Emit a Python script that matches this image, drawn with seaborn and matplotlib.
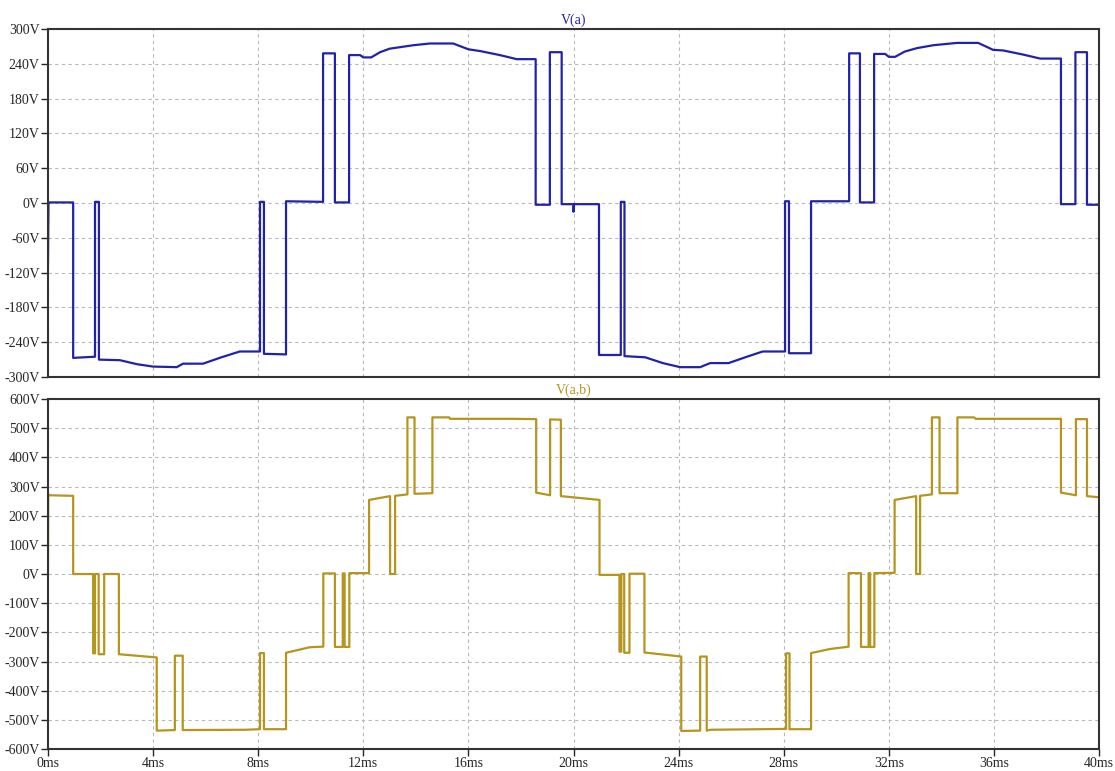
import numpy as np
import pandas as pd
import matplotlib
matplotlib.use("Agg")
import matplotlib.pyplot as plt
from matplotlib.ticker import FuncFormatter, MultipleLocator
import seaborn as sns

# V(a): phase voltage, time in ms, value in V
t_a = [0, 0.02, 0.96, 0.96, 1.79, 1.79, 1.94, 1.94,
       2.74, 3.4, 4.0, 4.9, 5.14, 5.9, 6.6, 7.3,
       8.07, 8.07, 8.22, 8.22, 9.06, 9.06, 10.47, 10.47,
       10.92, 10.92, 11.46, 11.46, 11.88, 12.0, 12.3, 12.64,
       13.0, 13.9, 14.54, 15.42, 16.0, 16.44, 17.2, 17.84,
       18.56, 18.56, 19.1, 19.1, 19.55, 19.55, 20.0, 20.0,
       20.02, 20.97, 20.97, 21.8, 21.8, 21.94, 21.94, 22.73,
       23.4, 24.06, 24.82, 25.2, 25.9, 26.6, 27.2, 28.05,
       28.05, 28.2, 28.2, 29.04, 29.04, 30.49, 30.49, 30.9,
       30.9, 31.44, 31.44, 31.86, 32.0, 32.24, 32.6, 33.07,
       33.69, 34.59, 35.4, 35.97, 36.35, 37.1, 37.76, 38.55,
       38.55, 39.1, 39.1, 39.54, 39.54, 40]
v_a = [-110, 1, 1, -267, -265, 2, 2, -270,
       -271, -278, -282, -283, -277, -277, -266, -256,
       -256, 2, 2, -260, -261, 3, 2, 258,
       258, 1, 1, 255, 255, 251, 251, 260,
       266, 272, 275, 275, 265, 262, 255, 248,
       248, -3, -3, 260, 260, -2, -2, -15,
       -2, -2, -262, -262, 2, 2, -264, -266,
       -276, -283, -283, -276, -276, -265, -256, -256,
       3, 3, -259, -259, 3, 3, 258, 258,
       1, 1, 257, 257, 252, 252, 261, 267,
       272, 276, 276, 264, 263, 256, 249, 249,
       -2, -2, 260, 260, -3, -3]

# V(a,b): line voltage
t_ab = [0, 0.01, 0.05, 0.96, 0.96, 1.72, 1.72, 1.79,
        1.79, 1.93, 1.93, 2.14, 2.14, 2.70, 2.70, 4.14,
        4.14, 4.83, 4.83, 5.13, 5.13, 7.5, 8.07, 8.07,
        8.22, 8.22, 9.06, 9.06, 9.97, 10.48, 10.48, 10.92,
        10.92, 11.22, 11.22, 11.29, 11.29, 11.47, 11.47, 12.22,
        12.22, 13.02, 13.02, 13.21, 13.21, 13.68, 13.68, 13.95,
        13.95, 14.63, 14.63, 15.27, 15.3, 17.71, 18.58, 18.58,
        19.11, 19.11, 19.52, 19.52, 20.99, 20.99, 21.75, 21.75,
        21.82, 21.82, 21.93, 21.93, 22.13, 22.13, 22.70, 22.70,
        24.1, 24.1, 24.82, 24.82, 25.07, 25.07, 25.2, 28.09,
        28.09, 28.22, 28.22, 29.04, 29.04, 29.77, 30.47, 30.47,
        30.94, 30.94, 31.23, 31.23, 31.29, 31.29, 31.45, 31.45,
        32.22, 32.22, 33.04, 33.04, 33.19, 33.19, 33.64, 33.64,
        33.93, 33.93, 34.61, 34.61, 35.25, 35.3, 38.55, 38.55,
        39.12, 39.12, 39.54, 39.54, 40]
v_ab = [0, 275, 270, 268, 0, 0, -272, -272,
        0, 0, -275, -275, 0, 0, -275, -286,
        -537, -535, -280, -280, -535, -534, -532, -271,
        -271, -532, -532, -270, -251, -249, 2, 2,
        -250, -250, 2, 2, -250, -250, 3, 3,
        254, 267, 0, 0, 268, 273, 537, 537,
        275, 277, 537, 537, 532, 532, 531, 279,
        270, 530, 529, 267, 254, -3, -3, -266,
        -266, 0, 0, -270, -270, 1, 1, -269,
        -283, -538, -537, -283, -283, -537, -534, -531,
        -272, -272, -532, -532, -271, -257, -249, 3,
        3, -250, -250, 3, 3, -250, -250, 3,
        4, 254, 267, 0, 0, 268, 273, 537,
        537, 277, 277, 537, 537, 532, 532, 279,
        270, 531, 531, 267, 263]

blue = "#2222a8"
gold = "#b5951e"

sns.set_style("white")
plt.rcParams["font.family"] = ["Liberation Serif", "DejaVu Serif"]

fig = plt.figure(figsize=(11.15, 7.71), dpi=100)
ax1 = fig.add_axes([0.043, 0.511, 0.9427, 0.4514])
ax2 = fig.add_axes([0.043, 0.0285, 0.9427, 0.454])

df_a = pd.DataFrame({"t": t_a, "v": v_a})
df_ab = pd.DataFrame({"t": t_ab, "v": v_ab})

sns.lineplot(data=df_a, x="t", y="v", sort=False, estimator=None, color=blue, lw=1.6, ax=ax1)
sns.lineplot(data=df_ab, x="t", y="v", sort=False, estimator=None, color=gold, lw=1.6, ax=ax2)

ax1.set_ylim(-300, 300)
ax1.yaxis.set_major_locator(MultipleLocator(60))
ax2.set_ylim(-600, 600)
ax2.yaxis.set_major_locator(MultipleLocator(100))

volt_fmt = FuncFormatter(lambda v, p: f"{v:.0f}V")
for ax, name, col in [(ax1, "V(a)", blue), (ax2, "V(a,b)", gold)]:
    ax.set_xlim(0, 40)
    ax.xaxis.set_major_locator(MultipleLocator(4))
    ax.yaxis.set_major_formatter(volt_fmt)
    ax.grid(True, color="#b8b8b8", linestyle=(0, (3, 3)), linewidth=0.8)
    ax.set_xlabel("")
    ax.set_ylabel("")
    ax.set_title(name, color=col, fontsize=10, pad=4)
    for s in ax.spines.values():
        s.set_color("#333333")
        s.set_linewidth(1.5)
    ax.tick_params(axis="y", direction="out", length=5, width=1, labelsize=10, pad=1, left=True)
    ax.tick_params(axis="x", direction="out", length=5, width=1, labelsize=10, pad=1, bottom=True)

ax1.tick_params(axis="x", bottom=False, labelbottom=False)
ax2.xaxis.set_major_formatter(FuncFormatter(lambda v, p: f"{v:.0f}ms"))

fig.savefig("out.png", dpi=100)
